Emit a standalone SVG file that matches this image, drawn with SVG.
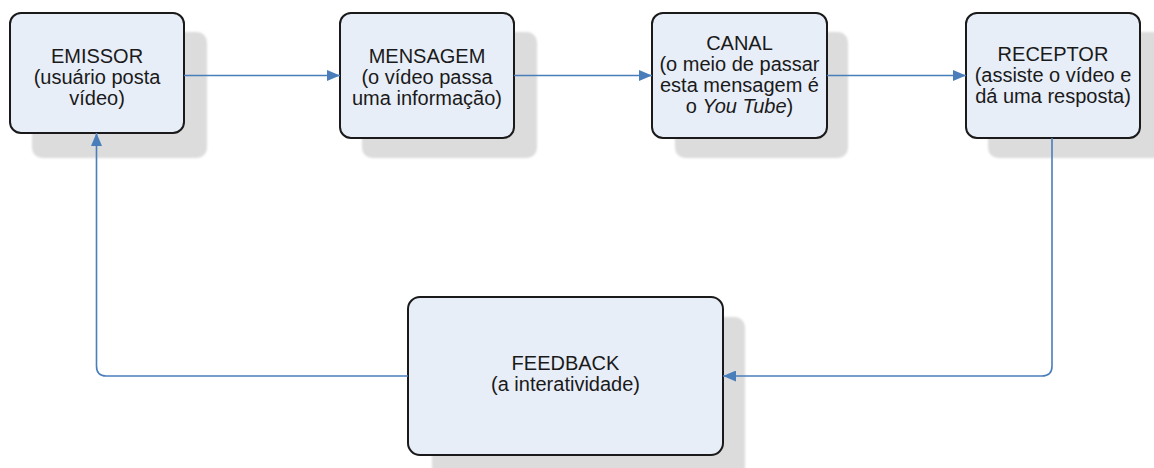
<svg xmlns="http://www.w3.org/2000/svg" width="1154" height="468" viewBox="0 0 1154 468">
<defs>
<marker id="arr" viewBox="0 0 13 11" refX="13" refY="5.5" markerWidth="13" markerHeight="11" markerUnits="userSpaceOnUse" orient="auto">
<path d="M0,0 L13,5.5 L0,11 Z" fill="#4a7ebb"/>
</marker>
<filter id="blur" x="-10%" y="-10%" width="120%" height="120%"><feGaussianBlur stdDeviation="1.2"/></filter>
</defs>
<style>
.shadow{fill:#dcdcdc;filter:url(#blur)}
.box{fill:#e8eef8;stroke:#1a1a1a;stroke-width:2}
.t{font-family:"Liberation Sans",Arial,sans-serif;font-size:20px;fill:#1a1a1a;text-anchor:middle}
.c{fill:none;stroke:#4a7ebb;stroke-width:1.6}
</style>
<rect width="1154" height="468" fill="#ffffff"/>
<g id="emissor">
<rect class="shadow" x="32" y="32" width="175" height="126" rx="10"/>
<rect class="box" x="10" y="13" width="174" height="120" rx="11"/>
<text class="t" x="97" y="63">EMISSOR</text>
<text class="t" x="97" y="84">(usuário posta</text>
<text class="t" x="97" y="105">vídeo)</text>
</g>
<g id="mensagem">
<rect class="shadow" x="362" y="32" width="175" height="126" rx="10"/>
<rect class="box" x="340" y="13" width="174" height="125" rx="11"/>
<text class="t" x="427" y="63">MENSAGEM</text>
<text class="t" x="427" y="84">(o vídeo passa</text>
<text class="t" x="427" y="105">uma informação)</text>
</g>
<g id="canal">
<rect class="shadow" x="675" y="32" width="173" height="126" rx="10"/>
<rect class="box" x="652" y="13" width="175" height="125" rx="11"/>
<text class="t" x="739.5" y="50">CANAL</text>
<text class="t" x="739.5" y="71">(o meio de passar</text>
<text class="t" x="739.5" y="92">esta mensagem é</text>
<text class="t" x="739.5" y="113">o <tspan font-style="italic">You Tube</tspan>)</text>
</g>
<g id="receptor">
<rect class="shadow" x="988" y="32" width="175" height="126" rx="10"/>
<rect class="box" x="966" y="13" width="174" height="125" rx="11"/>
<text class="t" x="1053" y="61">RECEPTOR</text>
<text class="t" x="1053" y="82">(assiste o vídeo e</text>
<text class="t" x="1053" y="103">dá uma resposta)</text>
</g>
<g id="feedback">
<rect class="shadow" x="432" y="317" width="313" height="160" rx="10"/>
<rect class="box" x="408" y="297" width="315" height="158" rx="12"/>
<text class="t" x="565.5" y="370">FEEDBACK</text>
<text class="t" x="565.5" y="391">(a interatividade)</text>
</g>
<g id="connectors">
<path class="c" d="M184,75.5 H340" marker-end="url(#arr)"/>
<path class="c" d="M514,75.5 H652" marker-end="url(#arr)"/>
<path class="c" d="M827,75.5 H966" marker-end="url(#arr)"/>
<path class="c" d="M1052,138 V366 Q1052,376 1042,376 H723" marker-end="url(#arr)"/>
<path class="c" d="M408,376 H106 Q96.5,376 96.5,366 V133" marker-end="url(#arr)"/>
</g>
</svg>
